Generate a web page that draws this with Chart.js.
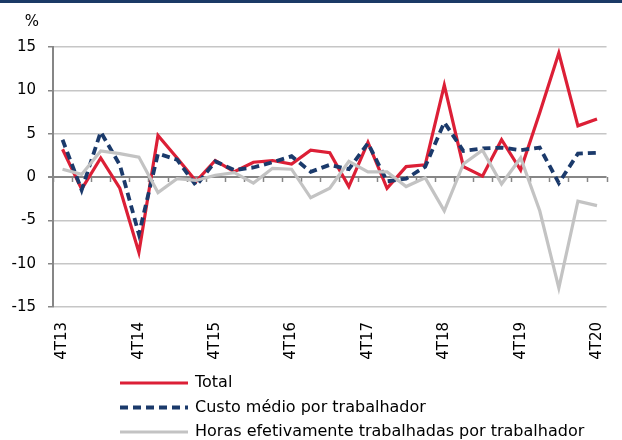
<!DOCTYPE html>
<html>
<head>
<meta charset="utf-8">
<script src="https://cdn.jsdelivr.net/npm/chart.js@4"></script>
<style>
  html, body { margin: 0; padding: 0; background: #fff; }
  #wrap { width: 622px; height: 440px; }
</style>
</head>
<body>
<div id="wrap"><canvas id="chart" width="622" height="440"></canvas></div>
<script>
// quarters (T = trimestre)
const quarters = ['4T13', '1T14', '2T14', '3T14', '4T14', '1T15', '2T15', '3T15', '4T15',
    '1T16', '2T16', '3T16', '4T16', '1T17', '2T17', '3T17', '4T17',
    '1T18', '2T18', '3T18', '4T18', '1T19', '2T19', '3T19', '4T19',
    '1T20', '2T20', '3T20', '4T20'];

const total = [3.2, -1.4, 2.2, -1.3, -8.7, 4.8, 2.2, -0.5, 1.9, 0.6, 1.7, 1.9, 1.5, 3.1, 2.8,
    -1.1, 4.0, -1.3, 1.2, 1.4, 10.6, 1.2, 0.1, 4.3, 0.8, 7.4, 14.3, 5.9, 6.7];
const custoMedio = [4.3, -1.5, 5.2, 1.4, -6.6, 2.7, 2.0, -1.0, 1.8, 0.8, 1.1, 1.7, 2.4, 0.6, 1.4,
    0.9, 3.9, -0.5, -0.2, 1.2, 6.3, 3.0, 3.3, 3.4, 3.1, 3.4, -0.7, 2.7, 2.8];
const horas = [0.9, 0.3, 3.0, 2.7, 2.3, -1.8, -0.2, -0.4, 0.2, 0.5, -0.7, 1.0, 0.9, -2.4, -1.3,
    1.8, 0.6, 0.6, -1.1, -0.1, -3.9, 1.5, 3.1, -0.8, 2.2, -3.9, -12.8, -2.8, -3.3];

const yTicks = [-15, -10, -5, 0, 5, 10, 15];

const FONT = 'DejaVu Sans';
const axisGray = '#868686';

// extra drawing: top band, % label, ticks on zero line, legend
const decorPlugin = {
    id: 'decor',
    beforeDraw(chart) {
        const c = chart.ctx;
        c.save();
        c.fillStyle = '#1b3a66';
        c.fillRect(0, 0, chart.width, 3);
        c.fillStyle = '#000';
        c.font = '15px "' + FONT + '"';
        c.textAlign = 'center';
        c.textBaseline = 'middle';
        c.fillText('%', 32, 22);
        c.restore();
    },
    beforeDatasetsDraw(chart) {
        const c = chart.ctx;
        const x = chart.scales.x;
        const y0 = chart.scales.y.getPixelForValue(0);
        const step = x.getPixelForValue(1) - x.getPixelForValue(0);
        c.save();
        c.strokeStyle = axisGray;
        c.lineWidth = 1.5;
        c.beginPath();
        for (let i = 0; i <= quarters.length; i++) {
            const px = Math.round(x.getPixelForValue(i) - step / 2) + 0.5;
            c.moveTo(px, y0);
            c.lineTo(px, y0 + 5);
        }
        c.stroke();
        c.restore();
    },
    afterDraw(chart) {
        const c = chart.ctx;
        c.save();
        c.font = '16px "' + FONT + '"';
        c.textBaseline = 'middle';
        c.textAlign = 'left';
        chart.data.datasets.forEach(function (ds, i) {
            const y = 383 + i * 24.5;
            c.strokeStyle = ds.borderColor;
            c.lineWidth = ds.borderWidth;
            c.setLineDash(ds.borderDash || []);
            c.beginPath();
            c.moveTo(120, y);
            c.lineTo(188, y);
            c.stroke();
            c.setLineDash([]);
            c.fillStyle = '#000';
            c.fillText(ds.label, 195, y);
        });
        c.restore();
    }
};

const ctx = document.getElementById('chart');
new Chart(ctx, {
    type: 'line',
    data: {
        labels: quarters,
        datasets: [
            {
                label: 'Total',
                data: total,
                borderColor: '#dc1f36',
                borderWidth: 3.2,
                pointRadius: 0,
                tension: 0,
                order: 3
            },
            {
                label: 'Custo médio por trabalhador',
                data: custoMedio,
                borderColor: '#1b3a6b',
                borderWidth: 3.8,
                borderDash: [8, 5],
                pointRadius: 0,
                tension: 0,
                order: 2
            },
            {
                label: 'Horas efetivamente trabalhadas por trabalhador',
                data: horas,
                borderColor: '#c3c3c3',
                borderWidth: 3.2,
                pointRadius: 0,
                tension: 0,
                order: 1
            }
        ]
    },
    options: {
        responsive: false,
        animation: false,
        layout: { padding: { top: 47, right: 0, bottom: 0, left: 0 } },
        plugins: {
            legend: { display: false },
            tooltip: { enabled: false }
        },
        scales: {
            x: {
                offset: true,
                grid: { display: false },
                border: { display: false },
                ticks: {
                    autoSkip: false,
                    maxRotation: 90,
                    minRotation: 90,
                    padding: 7,
                    color: '#000',
                    font: { family: FONT, size: 15 },
                    callback: function (v, i) {
                        return quarters[i].startsWith('4T') ? quarters[i] : '';
                    }
                },
                afterFit: function (scale) { scale.height = 133; }
            },
            y: {
                min: -15,
                max: 15,
                afterBuildTicks: function (scale) {
                    scale.ticks = yTicks.map(v => ({ value: v }));
                },
                grid: {
                    color: c => (c.tick && c.tick.value === 0) ? axisGray : '#c6c6c6',
                    lineWidth: c => (c.tick && c.tick.value === 0) ? 2 : 1.5,
                    tickColor: axisGray,
                    tickLength: 5
                },
                border: { color: axisGray, width: 2 },
                ticks: {
                    padding: 12,
                    color: '#000',
                    font: { family: FONT, size: 15 }
                },
                afterFit: function (scale) { scale.width = 53; }
            }
        }
    },
    plugins: [decorPlugin]
});
</script>
</body>
</html>
